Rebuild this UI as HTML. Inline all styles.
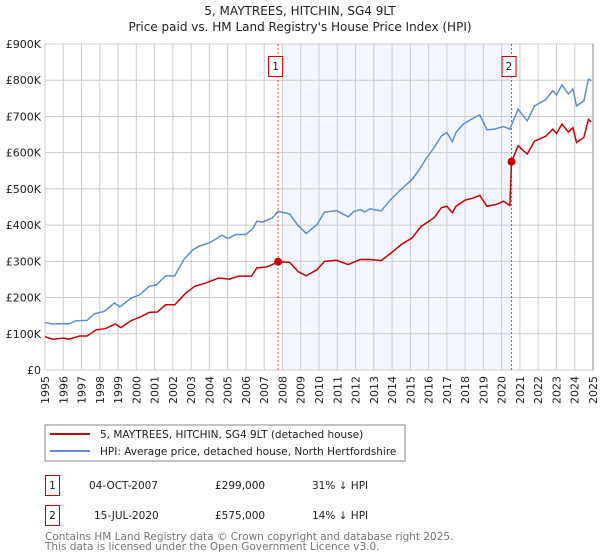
<!DOCTYPE html>
<html><head><meta charset="utf-8"><style>
body{margin:0;background:#fff;}
svg{display:block;font-family:"DejaVu Sans","Liberation Sans",sans-serif;}
</style></head><body>
<svg id="c" width="600" height="560" viewBox="0 0 600 560">
<text x="300" y="15" text-anchor="middle" font-size="12" fill="#222">5, MAYTREES, HITCHIN, SG4 9LT</text>
<text x="300" y="31" text-anchor="middle" font-size="12" fill="#222">Price paid vs. HM Land Registry's House Price Index (HPI)</text>
<g id="plot"></g>
<rect x="45" y="425" width="360" height="36" fill="#fff" stroke="#888"/>
<line x1="50" y1="434" x2="90" y2="434" stroke="#cc0000" stroke-width="2"/>
<text x="100" y="438" font-size="10.5" fill="#222">5, MAYTREES, HITCHIN, SG4 9LT (detached house)</text>
<line x1="50" y1="451" x2="90" y2="451" stroke="#5b8fd0" stroke-width="2"/>
<text x="100" y="455" font-size="10.5" fill="#222">HPI: Average price, detached house, North Hertfordshire</text>
<rect x="45.5" y="475.5" width="14" height="20" fill="#fff" stroke="#cc0000"/>
<text x="52.5" y="489" text-anchor="middle" font-size="10.5" fill="#222">1</text>
<text x="89" y="489" font-size="10.5" fill="#222">04-OCT-2007</text>
<text x="215" y="489" font-size="10.5" fill="#222">£299,000</text>
<text x="312" y="489" font-size="10.5" fill="#222">31% ↓ HPI</text>
<rect x="45.5" y="505.5" width="14" height="20" fill="#fff" stroke="#cc0000"/>
<text x="52.5" y="519" text-anchor="middle" font-size="10.5" fill="#222">2</text>
<text x="94" y="519" font-size="10.5" fill="#222">15-JUL-2020</text>
<text x="215" y="519" font-size="10.5" fill="#222">£575,000</text>
<text x="312" y="519" font-size="10.5" fill="#222">14% ↓ HPI</text>
<text x="45" y="540" font-size="10.5" fill="#777">Contains HM Land Registry data © Crown copyright and database right 2025.</text>
<text x="45" y="550" font-size="10.5" fill="#777">This data is licensed under the Open Government Licence v3.0.</text>
</svg>
<script>
const hpiYears=[1995,1995.4,1996,1996.3,1996.7,1997.3,1997.7,1998.25,1998.8,1999.1,1999.7,2000.2,2000.7,2001.1,2001.6,2002.1,2002.6,2003.1,2003.45,2004,2004.7,2005,2005.45,2006,2006.4,2006.6,2006.9,2007.45,2007.75,2008.4,2008.85,2009.3,2009.9,2010.3,2010.96,2011.6,2011.9,2012.25,2012.5,2012.8,2013.4,2013.9,2014.5,2015.1,2015.5,2015.9,2016.3,2016.7,2017,2017.3,2017.5,2017.9,2018.4,2018.8,2019.2,2019.6,2020.1,2020.45,2020.9,2021.4,2021.8,2022.4,2022.8,2023,2023.3,2023.65,2023.9,2024.1,2024.5,2024.75,2024.9];
const hpiValues=[131,127,128,127,136,137,155,162,185,174,198,208,231,235,260,260,305,332,342,351,372,363,374,374,392,411,408,420,438,431,399,377,402,436,440,423,437,443,436,445,439,469,499,526,554,586,614,646,656,630,656,679,694,704,663,665,672,665,720,688,729,746,771,759,787,762,776,729,743,803,799];
const ppYears=[1995,1995.4,1996,1996.3,1996.9,1997.3,1997.8,1998.3,1998.85,1999.15,1999.7,2000.2,2000.7,2001.15,2001.6,2002.1,2002.7,2003.2,2003.8,2004.5,2005.1,2005.6,2006.3,2006.6,2007.1,2007.45,2007.75,2008.4,2008.85,2009.3,2009.9,2010.3,2010.96,2011.6,2012.25,2012.8,2013.4,2013.9,2014.5,2015.1,2015.6,2016.3,2016.7,2017,2017.3,2017.5,2018,2018.45,2018.8,2019.2,2019.7,2020.1,2020.45,2020.54,2020.9,2021.4,2021.8,2022.4,2022.8,2023,2023.3,2023.65,2023.9,2024.1,2024.5,2024.75,2024.9];
const ppValues=[92,85,88,85,94,94,111,114,127,117,136,146,159,160,180,180,212,231,240,254,251,259,259,282,284,291,299,297,272,260,277,300,303,291,305,305,302,321,346,365,397,420,448,452,434,452,469,475,482,452,457,466,454,575,619,596,632,645,665,653,679,657,669,628,642,692,685];
const saleYears=[2007.76,2020.54];
const saleValues=[299,575];
const saleLabels=["1","2"];
const yTicks=[0,100,200,300,400,500,600,700,800,900];
const yTickLabels=["£0","£100K","£200K","£300K","£400K","£500K","£600K","£700K","£800K","£900K"];
const xTicks=[1995,1996,1997,1998,1999,2000,2001,2002,2003,2004,2005,2006,2007,2008,2009,2010,2011,2012,2013,2014,2015,2016,2017,2018,2019,2020,2021,2022,2023,2024,2025];

const X0=45,X1=593,Y0=370,Y1=44;
const xs=y=>X0+(y-1995)/30*(X1-X0);
const ys=v=>Y0-v/900*(Y0-Y1);
const NS="http://www.w3.org/2000/svg";
const g=document.getElementById('plot');
function mk(t,a){const e=document.createElementNS(NS,t);for(const k in a)e.setAttribute(k,a[k]);g.appendChild(e);return e;}
let e;
e=mk('rect',{x:xs(2008),y:Y1,width:xs(saleYears[1])-xs(2008),height:Y0-Y1,fill:'#eef3fc',opacity:0.7});


xTicks.forEach(t=>{
 const l=mk('line',{x1:xs(t),x2:xs(t),y1:Y1,y2:Y0,stroke:'#cccccc','stroke-width':1});
 
 
 const tx=mk('text',{x:0,y:0,'font-size':11,fill:'#222','text-anchor':'end',transform:`translate(${xs(t)+4},${Y0+6}) rotate(-90)`});
 tx.textContent=t;
 
 
});
yTicks.forEach((t,i)=>{
 const l=mk('line',{x1:X0,x2:X1,y1:ys(t),y2:ys(t),stroke:'#cccccc','stroke-width':1});
 
 
 const tx=mk('text',{x:X0-4,y:ys(t)+4,'font-size':11,fill:'#222','text-anchor':'end'});
 tx.textContent=yTickLabels[i];
 
 
});
e=mk('rect',{x:X0,y:Y1,width:X1-X0,height:Y0-Y1,fill:'none',stroke:'#cccccc'});


e=mk('line',{x1:X1,x2:X1,y1:Y1,y2:Y0,stroke:'#888'});


saleYears.forEach((s,i)=>{
 const l=mk('line',{x1:xs(s),x2:xs(s),y1:Y1,y2:Y0,stroke:'#ee4444','stroke-width':1,'stroke-dasharray':'2,2'});
 
 
 const r=mk('rect',{x:xs(s)-9.5,y:56.5,width:14,height:20,fill:'#fff',stroke:'#cc0000'});
 
 
 const t=mk('text',{x:xs(s)-2.5,y:70,'font-size':10.5,fill:'#222','text-anchor':'middle'});
 t.textContent=saleLabels[i];
 
 
});
e=mk('polyline',{points:hpiYears.map((y,i)=>xs(y)+','+ys(hpiValues[i])).join(' '),fill:'none',stroke:'#5b8fd0','stroke-width':1.5});


e=mk('polyline',{points:ppYears.map((y,i)=>xs(y)+','+ys(ppValues[i])).join(' '),fill:'none',stroke:'#cc0000','stroke-width':1.5});


saleYears.forEach((s,i)=>{
 const c=mk('circle',{cx:xs(s),cy:ys(saleValues[i]),r:4,fill:'#cc0000'});
 
 
});
</script>
</body></html>
